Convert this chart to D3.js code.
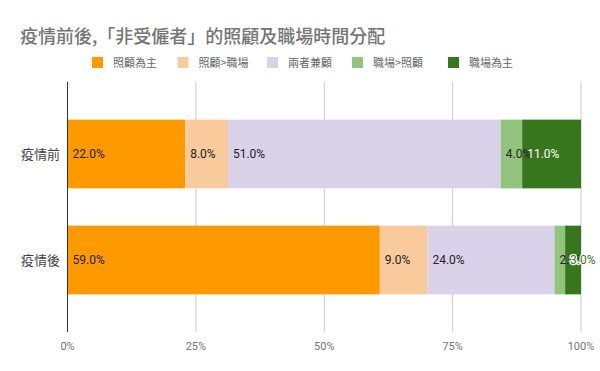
<!DOCTYPE html>
<html>
<head>
<meta charset="utf-8">
<script src="https://cdn.jsdelivr.net/npm/d3@7"></script>
<style>
  body { margin: 0; background: #fff; }
  svg { display: block; font-family: Roboto, "Noto Sans CJK TC", sans-serif; }
</style>
</head>
<body>
<div id="chart"></div>
<script>
// Data
const periods = ["疫情前", "疫情後"];
const seriesNames = ["照顧為主", "照顧>職場", "兩者兼顧", "職場>照顧", "職場為主"];
const careMain = [22, 59];
const careOverWork = [8, 9];
const bothEqual = [51, 24];
const workOverCare = [4, 2];
const workMain = [11, 3];
const xTicks = [0, 0.25, 0.5, 0.75, 1];

const colors = ["#ff9900", "#f9cb9c", "#d9d2e9", "#93c47d", "#38761d"];
const darkSeries = [false, false, false, false, true];

const width = 600, height = 371;
const svg = d3.select('#chart').append('svg')
    .attr('width', width).attr('height', height);

// build rows for stacking
const columns = [careMain, careOverWork, bothEqual, workOverCare, workMain];
const rows = periods.map((p, i) => {
    const r = { period: p };
    seriesNames.forEach((s, j) => r[s] = columns[j][i]);
    return r;
});
const stacked = d3.stack().keys(seriesNames).offset(d3.stackOffsetExpand)(rows);

const x = d3.scaleLinear().domain([0, 1]).range([67.5, 581]);
const y = d3.scaleBand().domain(periods).range([82, 332]).paddingInner(0.352).paddingOuter(0.355);

// Title
svg.append('text')
    .attr('x', 20).attr('y', 43)
    .style('font-family', '"Noto Sans CJK TC", sans-serif')
    .style('font-size', '18px')
    .style('font-weight', 500)
    .style('fill', '#757575')
    .text('疫情前後,「非受僱者」的照顧及職場時間分配');

// Legend
const legendX = [92, 177.5, 267, 352, 448];
const legend = svg.append('g');
seriesNames.forEach((s, i) => {
    legend.append('rect')
        .attr('x', legendX[i]).attr('y', 57)
        .attr('width', 11).attr('height', 11)
        .attr('fill', colors[i]);
    legend.append('text')
        .attr('x', legendX[i] + 21).attr('y', 66.5)
        .style('font-family', '"Noto Sans CJK TC", sans-serif')
        .style('font-size', '11px')
        .style('fill', '#666')
        .text(s);
});

// Gridlines
svg.append('g')
    .selectAll('line')
    .data(xTicks.filter(d => d > 0))
    .join('line')
    .attr('x1', d => x(d)).attr('x2', d => x(d))
    .attr('y1', 82).attr('y2', 332)
    .attr('stroke', '#ccc').attr('stroke-width', 1);

// Bars
const layers = svg.append('g').selectAll('g')
    .data(stacked)
    .join('g')
    .attr('fill', (d, i) => colors[i]);

layers.selectAll('rect')
    .data(d => d)
    .join('rect')
    .attr('x', d => x(d[0]))
    .attr('y', d => y(d.data.period))
    .attr('width', d => x(d[1]) - x(d[0]))
    .attr('height', y.bandwidth());

// Value labels
stacked.forEach((layer, i) => {
    layer.forEach(d => {
        const segW = x(d[1]) - x(d[0]);
        const t = svg.append('text')
            .attr('x', x(d[0]) + 5)
            .attr('y', y(d.data.period) + y.bandwidth() / 2)
            .attr('dy', '0.35em')
            .style('font-size', '12px')
            .text(d.data[layer.key].toFixed(1) + '%');
        const tw = t.node().getComputedTextLength();
        if (darkSeries[i]) {
            if (tw + 5 > segW) {
                t.style('fill', colors[i])
                    .style('stroke', '#fff').style('stroke-width', 2.5)
                    .style('paint-order', 'stroke');
            } else {
                t.style('fill', '#fff');
            }
        } else {
            t.style('fill', '#222');
        }
    });
});

// Y axis line
svg.append('line')
    .attr('x1', x(0)).attr('x2', x(0))
    .attr('y1', 82).attr('y2', 332)
    .attr('stroke', '#333').attr('stroke-width', 1);

// Category labels
svg.append('g').selectAll('text')
    .data(periods)
    .join('text')
    .attr('x', 60)
    .attr('y', d => y(d) + y.bandwidth() / 2)
    .attr('dy', '0.35em')
    .attr('text-anchor', 'end')
    .style('font-family', '"Noto Sans CJK TC", sans-serif')
    .style('font-size', '13px')
    .style('fill', '#444')
    .text(d => d);

// X tick labels
svg.append('g').selectAll('text')
    .data(xTicks)
    .join('text')
    .attr('x', d => x(d))
    .attr('y', 350)
    .attr('text-anchor', 'middle')
    .style('font-size', '11px')
    .style('fill', '#757575')
    .text(d3.format('.0%'));
</script>
</body>
</html>
